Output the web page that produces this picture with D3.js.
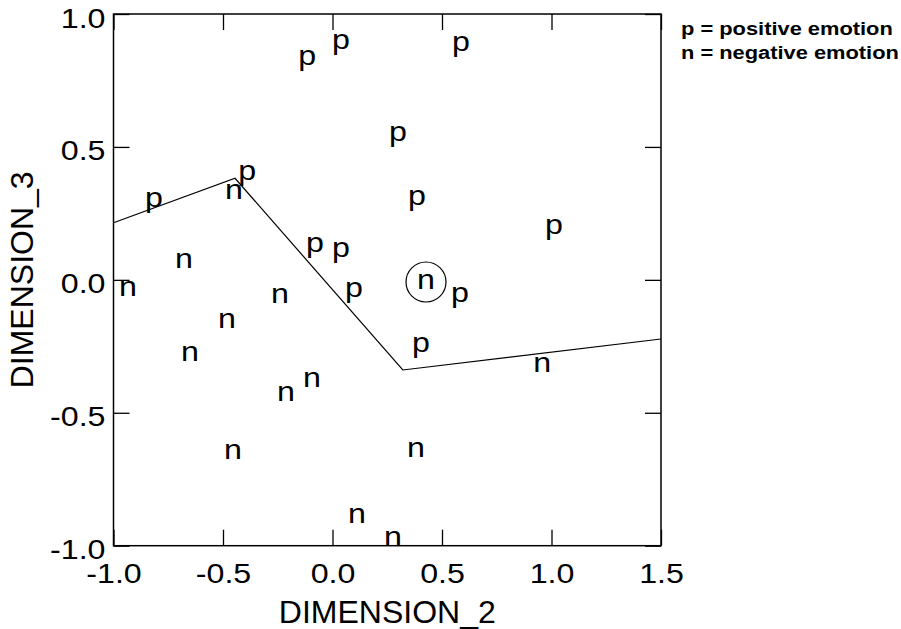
<!DOCTYPE html>
<html>
<head>
<meta charset="utf-8">
<script src="https://cdn.jsdelivr.net/npm/d3@7"></script>
<style>
  body { margin: 0; background: #fff; }
  svg { display: block; font-family: "Liberation Sans", Arial, sans-serif; }
</style>
</head>
<body>
<svg id="chart" width="901" height="629"></svg>
<script>
// Data
const xTicks = [-1.0, -0.5, 0.0, 0.5, 1.0, 1.5];
const yTicks = [-1.0, -0.5, 0.0, 0.5, 1.0];

// p = positive emotion  [DIMENSION_2, DIMENSION_3]
const positivePoints = [
    [-0.116, 0.834], [0.039, 0.895], [0.587, 0.887], [0.299, 0.549],
    [0.386, 0.308], [1.011, 0.199], [-0.390, 0.402], [-0.815, 0.300],
    [-0.080, 0.131], [0.039, 0.112], [0.098, -0.038], [0.582, -0.057],
    [0.404, -0.245]
];

// n = negative emotion
const negativePoints = [
    [-0.450, 0.330], [-0.678, 0.071], [-0.934, -0.034], [-0.240, -0.061],
    [-0.482, -0.155], [-0.651, -0.279], [-0.094, -0.377], [-0.212, -0.429],
    [-0.454, -0.648], [0.427, -0.008], [0.957, -0.320], [0.381, -0.640],
    [0.112, -0.888], [0.276, -0.975]
];

// the one negative point that is ringed
const circledPoint = [0.427, -0.008];

// separating line
const boundaryLine = [[-1.0, 0.215], [-0.445, 0.382], [0.321, -0.339], [1.5, -0.2225]];

const legendLines = ["p = positive emotion", "n = negative emotion"];

// Layout
const plotLeft = 113.5, plotRight = 661, plotTop = 14, plotBottom = 545.7;
const TICK = 16;
const STRETCH = 1.15; // reference glyphs are a bit wider than Arial

const svg = d3.select("#chart");

const x = d3.scaleLinear().domain([-1, 1.5]).range([plotLeft, plotRight]);
const y = d3.scaleLinear().domain([-1, 1]).range([plotBottom, plotTop]);

const fmt = d => d.toFixed(1);

function styleAxis(g, withText) {
    g.attr("font-family", null).attr("font-size", null);
    g.select(".domain").remove();
    g.selectAll(".tick line").attr("stroke", "#000").attr("stroke-width", 1.3);
    if (!withText) g.selectAll(".tick text").remove();
}

// bottom axis
svg.append("g")
    .attr("transform", `translate(0,${plotBottom})`)
    .call(d3.axisBottom(x).tickValues(xTicks).tickSizeInner(-TICK).tickSizeOuter(0).tickFormat(fmt))
    .call(g => styleAxis(g, true))
    .call(g => g.selectAll(".tick text")
        .attr("font-size", 28)
        .attr("fill", "#000")
        .attr("y", 37.5)
        .attr("dy", null)
        .attr("transform", `scale(${STRETCH},1)`));

// left axis
svg.append("g")
    .attr("transform", `translate(${plotLeft},0)`)
    .call(d3.axisLeft(y).tickValues(yTicks).tickSizeInner(-TICK).tickSizeOuter(0).tickFormat(fmt))
    .call(g => styleAxis(g, true))
    .call(g => g.selectAll(".tick text")
        .attr("font-size", 28)
        .attr("fill", "#000")
        .attr("x", -8 / STRETCH)
        .attr("y", 13)
        .attr("dy", null)
        .attr("transform", `scale(${STRETCH},1)`));

// top and right axes, ticks only
svg.append("g")
    .attr("transform", `translate(0,${plotTop})`)
    .call(d3.axisTop(x).tickValues(xTicks).tickSizeInner(-TICK).tickSizeOuter(0))
    .call(g => styleAxis(g, false));

svg.append("g")
    .attr("transform", `translate(${plotRight},0)`)
    .call(d3.axisRight(y).tickValues(yTicks).tickSizeInner(-TICK).tickSizeOuter(0))
    .call(g => styleAxis(g, false));

// frame
svg.append("rect")
    .attr("x", plotLeft).attr("y", plotTop)
    .attr("width", plotRight - plotLeft).attr("height", plotBottom - plotTop)
    .attr("fill", "none").attr("stroke", "#000").attr("stroke-width", 1.5);

// boundary line
const line = d3.line().x(d => x(d[0])).y(d => y(d[1]));
svg.append("path")
    .datum(boundaryLine)
    .attr("d", line)
    .attr("fill", "none")
    .attr("stroke", "#000")
    .attr("stroke-width", 1.2);

// point letters
function drawLetters(points, letter) {
    svg.append("g").selectAll("text")
        .data(points)
        .join("text")
        .attr("transform", d => `translate(${x(d[0])},${y(d[1])}) scale(${STRETCH},1)`)
        .attr("y", 7)
        .attr("text-anchor", "middle")
        .attr("font-size", 28)
        .attr("fill", "#000")
        .text(letter);
}
drawLetters(positivePoints, "p");
drawLetters(negativePoints, "n");

svg.append("circle")
    .attr("cx", x(circledPoint[0]))
    .attr("cy", y(circledPoint[1]))
    .attr("r", 20)
    .attr("fill", "none")
    .attr("stroke", "#000")
    .attr("stroke-width", 1.2);

// axis titles
svg.append("text")
    .attr("x", (plotLeft + plotRight) / 2)
    .attr("y", 623)
    .attr("text-anchor", "middle")
    .attr("font-size", 32)
    .text("DIMENSION_2");

svg.append("text")
    .attr("transform", `translate(33,${(plotTop + plotBottom) / 2}) rotate(-90)`)
    .attr("text-anchor", "middle")
    .attr("font-size", 32)
    .text("DIMENSION_3");

// legend
svg.append("g").selectAll("text")
    .data(legendLines)
    .join("text")
    .attr("transform", (d, i) => `translate(681,${35 + i * 23.5}) scale(${STRETCH},1)`)
    .attr("font-size", 19)
    .attr("font-weight", "bold")
    .attr("fill", "#000")
    .text(d => d);
</script>
</body>
</html>
